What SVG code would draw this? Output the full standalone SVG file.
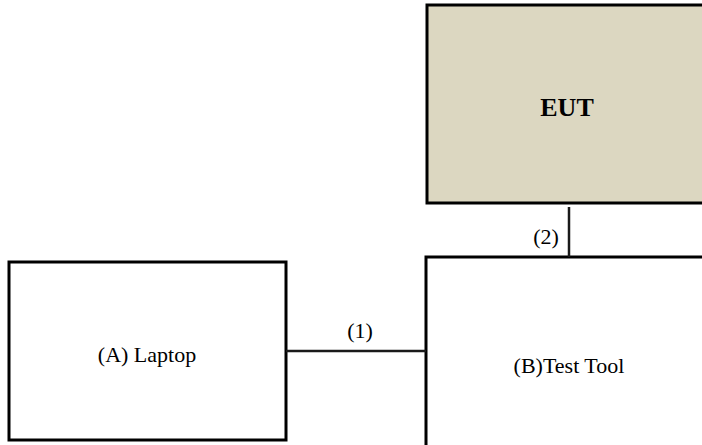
<svg xmlns="http://www.w3.org/2000/svg" width="702" height="445" viewBox="0 0 702 445">
<style>
.box{stroke:#000;stroke-width:3}
.lbl{font-family:"Liberation Serif","Times New Roman",serif;font-size:22px;fill:#000;text-anchor:middle}
.title{font-size:26px;font-weight:bold}
.conn{stroke:#1a1a1a;stroke-width:2.5;fill:none}
</style>
<rect width="702" height="445" fill="#fff"/>
<g id="eut">
<rect class="box" x="427" y="5" width="280" height="198" fill="#dcd7c1"/>
<text class="lbl title" x="567" y="116">EUT</text>
</g>
<g id="laptop">
<rect class="box" x="9" y="262" width="277" height="178" fill="#fff"/>
<text class="lbl" x="147" y="362">(A) Laptop</text>
</g>
<g id="testtool">
<rect class="box" x="426" y="257" width="280" height="192" fill="#fff"/>
<text class="lbl" x="569" y="373">(B)Test Tool</text>
</g>
<g id="connectors">
<line class="conn" x1="286" y1="351" x2="426" y2="351"/>
<line class="conn" x1="569" y1="207" x2="569" y2="257"/>
<text class="lbl" x="360" y="338">(1)</text>
<text class="lbl" x="546" y="244">(2)</text>
</g>
</svg>
